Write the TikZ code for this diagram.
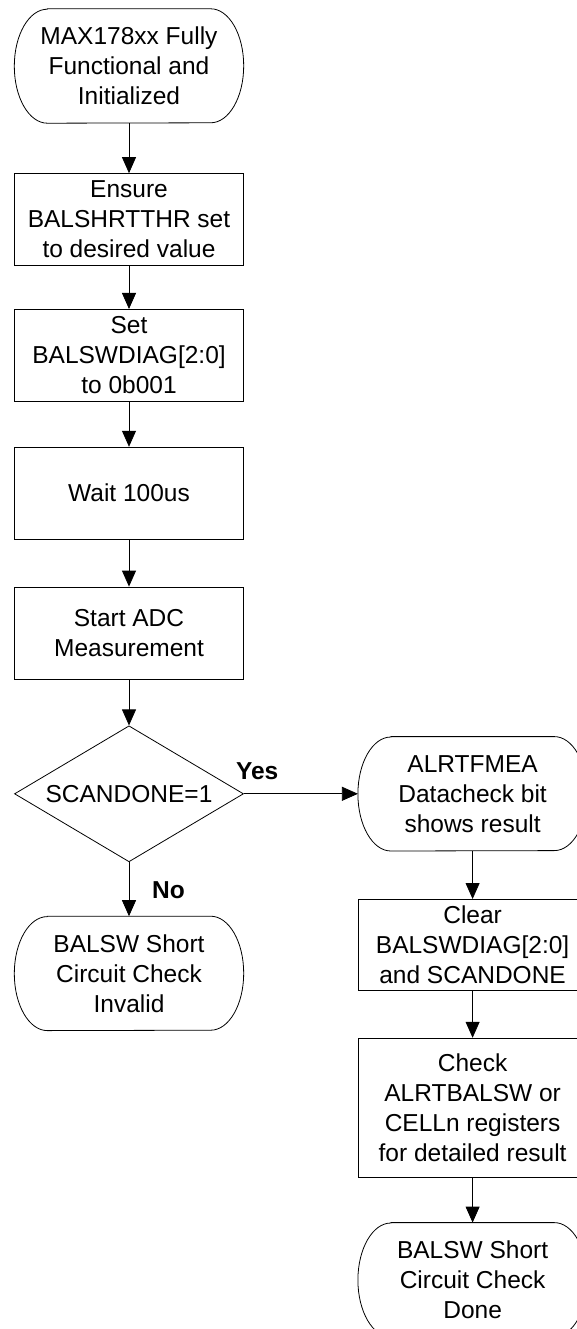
\documentclass[tikz,border=0pt]{standalone}
\usepackage{fontspec}
\setmainfont{Liberation Sans}
\usetikzlibrary{shapes.geometric, arrows.meta, positioning}

\begin{document}
\begin{tikzpicture}[
    node distance=47pt,
    every node/.style={font=\fontsize{24.5}{30}\selectfont},
    procbox/.style={rectangle, draw=black, line width=0.8pt, minimum width=229pt, minimum height=92pt, inner sep=0pt, align=center},
    termbox/.style={rectangle, minimum width=229pt, minimum height=114pt, inner sep=0pt, align=center},
    termline/.style={line width=0.8pt},
    decbox/.style={diamond, draw=black, line width=0.8pt, minimum width=229pt, minimum height=136pt, shape aspect=1.68, inner sep=0pt, align=center},
    arrow/.style={-{Triangle[length=16pt, width=14pt]}, line width=0.8pt},
    lbl/.style={font=\fontsize{24.5}{30}\selectfont\bfseries, inner sep=2pt}
]
\useasboundingbox (0,0) rectangle (577pt,-1329pt);

% left column
\node[termbox] (start) at (129pt,-66pt) {MAX178xx Fully\\Functional and\\Initialized};
\node[procbox, below=50pt of start] (ensure) {Ensure\\BALSHRTTHR set\\to desired value};
\node[procbox, below=43pt of ensure] (setdiag) {Set\\BALSWDIAG[2:0]\\to 0b001};
\node[procbox, below=45pt of setdiag] (wait) {Wait 100us};
\node[procbox, below=of wait] (startadc) {Start ADC\\Measurement};
\node[decbox, below=46pt of startadc] (scandone) {SCANDONE=1};
\node[termbox, below=54pt of scandone] (invalid) {BALSW Short\\Circuit Check\\Invalid};

% right column
\node[termbox, right=114pt of scandone] (alrtfmea) {ALRTFMEA\\Datacheck bit\\shows result};
\node[procbox, minimum height=91pt, below=48pt of alrtfmea] (cleardiag) {Clear\\BALSWDIAG[2:0]\\and SCANDONE};
\node[procbox, minimum height=139pt, below=of cleardiag] (checkreg) {Check\\ALRTBALSW or\\CELLn registers\\for detailed result};
\node[termbox, below=45pt of checkreg] (done) {BALSW Short\\Circuit Check\\Done};

% terminator outlines
\foreach \t in {start, invalid, alrtfmea, done}
    \draw[termline] ([xshift=33pt]\t.north west) -- ([xshift=-33pt]\t.north east)
        arc[start angle=90, end angle=-90, x radius=33pt, y radius=57pt]
        -- ([xshift=33pt]\t.south west)
        arc[start angle=270, end angle=90, x radius=33pt, y radius=57pt] -- cycle;

\draw[arrow] (start) -- (ensure);
\draw[arrow] (ensure) -- (setdiag);
\draw[arrow] (setdiag) -- (wait);
\draw[arrow] (wait) -- (startadc);
\draw[arrow] (startadc) -- (scandone);
\draw[arrow] (scandone) -- (invalid);
\draw[arrow] (scandone.east) -- (alrtfmea.west);
\draw[arrow] (alrtfmea) -- (cleardiag);
\draw[arrow] (cleardiag) -- (checkreg);
\draw[arrow] (checkreg) -- (done);

\node[lbl, anchor=south west] (yes) at ([xshift=-10pt, yshift=12pt]scandone.east) {Yes};
\node[lbl, anchor=north west] (no) at ([xshift=21pt, yshift=-17pt]scandone.south) {No};

\end{tikzpicture}
\end{document}
